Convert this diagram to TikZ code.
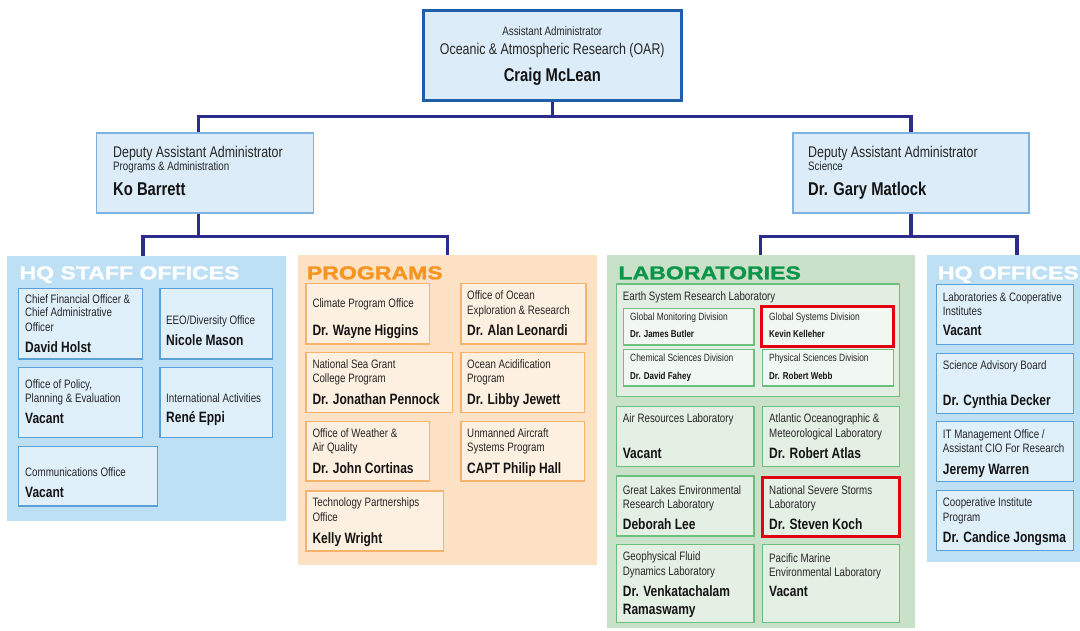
\documentclass[tikz,border=0pt]{standalone}
\usepackage{fontspec}
\setmainfont[FakeStretch=0.8]{Liberation Sans}
\newfontfamily\headfont[FakeStretch=1.24,FakeBold=1.3]{Liberation Sans}
\usetikzlibrary{calc}
\pgfdeclarelayer{bg}
\pgfsetlayers{bg,main}
\definecolor{topfill}{HTML}{DCEDF9}
\definecolor{topline}{HTML}{1F5FAA}
\definecolor{depline}{HTML}{7FB2E0}
\definecolor{hqsecc}{HTML}{BDE0F5}
\definecolor{hqfill}{HTML}{E0F0FB}
\definecolor{hqline}{HTML}{5A9FD6}
\definecolor{prsecc}{HTML}{FDE1C5}
\definecolor{prfill}{HTML}{FEF0E1}
\definecolor{prline}{HTML}{F7B36A}
\definecolor{lbsecc}{HTML}{C8E1C8}
\definecolor{lbfill}{HTML}{E5F0E5}
\definecolor{esrlfill}{HTML}{E1EEE1}
\definecolor{subfill}{HTML}{F1F7F1}
\definecolor{lbline}{HTML}{6CC07E}
\definecolor{redc}{HTML}{E3000F}
\definecolor{connc}{HTML}{2B2C8C}
\definecolor{progor}{HTML}{F7941D}
\definecolor{labgr}{HTML}{0A9548}
\definecolor{txtc}{HTML}{262626}
\definecolor{namec}{HTML}{141414}
\newcommand\rbox[6]{\node[#2, anchor=north west, minimum width={(#5-#3)*1pt}, minimum height={(#6-#4)*1pt}, inner sep=0pt, outer sep=0pt] (#1) at (#3,#4) {};}
\newcommand\tx[5]{\node[#2] (#1) at (#3,#4) {#5};}
\begin{document}
\begin{tikzpicture}[x=1pt,y=-1pt,
  topbox/.style={fill=topfill, draw=topline, line width=3pt},
  depbox/.style={fill=topfill, draw=depline, line width=1.3pt},
  hqsec/.style={fill=hqsecc},
  prsec/.style={fill=prsecc},
  lbsec/.style={fill=lbsecc},
  hqbox/.style={fill=hqfill, draw=hqline, line width=1.2pt},
  prbox/.style={fill=prfill, draw=prline, line width=1.2pt},
  lbbox/.style={fill=lbfill, draw=lbline, line width=1.2pt},
  esrlbox/.style={fill=esrlfill, draw=lbline, line width=1.2pt},
  subbox/.style={fill=subfill, draw=lbline, line width=1.2pt},
  redline/.style={draw=redc, line width=3pt},
  conn/.style={draw=connc, line width=3.2pt, line cap=rect},
  tsm/.style={font=\fontsize{12.2}{14}\selectfont, text=txtc, anchor=base west, inner sep=0pt},
  tnm/.style={font=\fontsize{15}{17}\selectfont\bfseries, text=namec, anchor=base west, inner sep=0pt},
  tdv/.style={font=\fontsize{10.5}{12}\selectfont, text=txtc, anchor=base west, inner sep=0pt},
  tdn/.style={font=\fontsize{10}{12}\selectfont\bfseries, text=namec, anchor=base west, inner sep=0pt},
  ttl/.style={font=\headfont\bfseries\fontsize{18.6}{20}\selectfont, anchor=base west, inner sep=0pt}]
\useasboundingbox (0,0) rectangle (1080,630);
\clip (0,0) rectangle (1080,630);
\begin{pgfonlayer}{bg}
\fill[white] (0,0) rectangle (1080,630);
\end{pgfonlayer}
% top
\rbox{oar}{topbox}{423.6}{10}{681}{100.7}
\node[tsm, anchor=base] (oar1) at (552.3,35) {Assistant Administrator};
\node[tsm, anchor=base, font=\fontsize{15.5}{17}\selectfont] (oar2) at (552.3,54) {Oceanic \& Atmospheric Research (OAR)};
\node[tnm, anchor=base, font=\fontsize{18.5}{20}\selectfont\bfseries] (oar3) at (552.3,81) {Craig McLean};
% deputies
\rbox{dpa}{depbox}{96.4}{133}{313.4}{213}
\node[tsm, font=\fontsize{15.5}{17}\selectfont] (dpa1) at (113,157.7) {Deputy Assistant Administrator};
\tx{dpa2}{tsm}{113}{170.5}{Programs \& Administration}
\node[tnm, font=\fontsize{18.5}{20}\selectfont\bfseries] (dpa3) at (113,195.5) {Ko Barrett};
\rbox{dps}{depbox}{793}{133}{1029}{213}
\node[tsm, font=\fontsize{15.5}{17}\selectfont] (dps1) at (808,157.7) {Deputy Assistant Administrator};
\tx{dps2}{tsm}{808}{170.5}{Science}
\node[tnm, font=\fontsize{18.5}{20}\selectfont\bfseries] (dps3) at (808,195.5) {Dr. Gary Matlock};
% sections
\rbox{hqs}{hqsec}{6.7}{256}{286}{520.7}
\rbox{prg}{prsec}{298.3}{255}{596.7}{565}
\rbox{lab}{lbsec}{606.7}{255}{915}{628}
\rbox{hqo}{hqsec}{926.7}{255}{1090}{561.7}
\node[ttl, text=white] (hqst) at (19.3,279.3) {HQ STAFF OFFICES};
\node[ttl, text=progor] (prgt) at (306.7,279.3) {PROGRAMS};
\node[ttl, text=labgr] (labt) at (618.3,279.3) {LABORATORIES};
\node[ttl, text=white] (hqot) at (937.7,279.3) {HQ OFFICES};
% HQ staff offices
\rbox{cfo}{hqbox}{18.3}{288.3}{142.3}{359}
\tx{cfo1}{tsm}{25}{303.3}{Chief Financial Officer \&}
\tx{cfo2}{tsm}{25}{316.7}{Chief Administrative}
\tx{cfo3}{tsm}{25}{331}{Officer}
\tx{cfo4}{tnm}{25}{352.3}{David Holst}
\rbox{eeo}{hqbox}{160}{288.3}{272.7}{359}
\tx{eeo1}{tsm}{166}{324}{EEO/Diversity Office}
\tx{eeo2}{tnm}{166}{345.7}{Nicole Mason}
\rbox{opp}{hqbox}{18.3}{367.3}{142.3}{437.3}
\tx{opp1}{tsm}{25}{388.3}{Office of Policy,}
\tx{opp2}{tsm}{25}{402.3}{Planning \& Evaluation}
\tx{opp3}{tnm}{25}{423.3}{Vacant}
\rbox{intl}{hqbox}{160}{367.3}{272.7}{437.3}
\tx{intl1}{tsm}{166}{402.3}{International Activities}
\tx{intl2}{tnm}{166}{422.3}{René Eppi}
\rbox{com}{hqbox}{18.3}{446.7}{157.3}{506}
\tx{com1}{tsm}{25}{476.7}{Communications Office}
\tx{com2}{tnm}{25}{497.3}{Vacant}
% programs
\rbox{cpo}{prbox}{306}{283.3}{429.3}{344}
\tx{cpo1}{tsm}{312.3}{307.3}{Climate Program Office}
\tx{cpo2}{tnm}{312.3}{335}{Dr. Wayne Higgins}
\rbox{oer}{prbox}{461}{283.3}{586}{344}
\tx{oer1}{tsm}{467}{299.3}{Office of Ocean}
\tx{oer2}{tsm}{467}{314}{Exploration \& Research}
\tx{oer3}{tnm}{467}{335.7}{Dr. Alan Leonardi}
\rbox{sg}{prbox}{306}{352.7}{452.3}{412.7}
\tx{sg1}{tsm}{312.3}{368.3}{National Sea Grant}
\tx{sg2}{tsm}{312.3}{382.7}{College Program}
\tx{sg3}{tnm}{312.3}{404.3}{Dr. Jonathan Pennock}
\rbox{oap}{prbox}{461}{352.7}{584.3}{412.7}
\tx{oap1}{tsm}{467}{368.3}{Ocean Acidification}
\tx{oap2}{tsm}{467}{382.7}{Program}
\tx{oap3}{tnm}{467}{404.3}{Dr. Libby Jewett}
\rbox{owaq}{prbox}{306}{421.7}{429.3}{481}
\tx{owaq1}{tsm}{312.3}{437.3}{Office of Weather \&}
\tx{owaq2}{tsm}{312.3}{451.7}{Air Quality}
\tx{owaq3}{tnm}{312.3}{473.3}{Dr. John Cortinas}
\rbox{uas}{prbox}{461}{421.7}{584.3}{481}
\tx{uas1}{tsm}{467}{437.3}{Unmanned Aircraft}
\tx{uas2}{tsm}{467}{451.7}{Systems Program}
\tx{uas3}{tnm}{467}{473.3}{CAPT Philip Hall}
\rbox{tpo}{prbox}{306}{491}{443.3}{551}
\tx{tpo1}{tsm}{312.3}{506.7}{Technology Partnerships}
\tx{tpo2}{tsm}{312.3}{521.7}{Office}
\tx{tpo3}{tnm}{312.3}{543.3}{Kelly Wright}
% laboratories
\rbox{esrl}{esrlbox}{616.7}{284}{899.3}{396.7}
\tx{esrl1}{tsm}{622.7}{300}{Earth System Research Laboratory}
\rbox{gmd}{subbox}{623.3}{308.3}{754}{345}
\tx{gmd1}{tdv}{630}{320.7}{Global Monitoring Division}
\tx{gmd2}{tdn}{630}{337.3}{Dr. James Butler}
\rbox{gsd}{subbox,redline}{761.7}{306}{893.3}{346.7}
\tx{gsd1}{tdv}{769}{320.7}{Global Systems Division}
\tx{gsd2}{tdn}{769}{337.3}{Kevin Kelleher}
\rbox{csd}{subbox}{623.3}{349.3}{754}{386}
\tx{csd1}{tdv}{630}{361.7}{Chemical Sciences Division}
\tx{csd2}{tdn}{630}{379}{Dr. David Fahey}
\rbox{psd}{subbox}{762.3}{349.3}{893.3}{386}
\tx{psd1}{tdv}{769}{361.7}{Physical Sciences Division}
\tx{psd2}{tdn}{769}{379}{Dr. Robert Webb}
\rbox{arl}{lbbox}{616.7}{406.7}{754}{466.7}
\tx{arl1}{tsm}{622.7}{422.7}{Air Resources Laboratory}
\tx{arl2}{tnm}{622.7}{458.3}{Vacant}
\rbox{aoml}{lbbox}{762.3}{406.7}{899.3}{466.7}
\tx{aoml1}{tsm}{769}{422.7}{Atlantic Oceanographic \&}
\tx{aoml2}{tsm}{769}{437.3}{Meteorological Laboratory}
\tx{aoml3}{tnm}{769}{458.3}{Dr. Robert Atlas}
\rbox{glerl}{lbbox}{616.7}{476}{754}{536}
\tx{glerl1}{tsm}{622.7}{494}{Great Lakes Environmental}
\tx{glerl2}{tsm}{622.7}{508.3}{Research Laboratory}
\tx{glerl3}{tnm}{622.7}{529.3}{Deborah Lee}
\rbox{nssl}{lbbox,redline}{762.3}{477.3}{899.3}{536.7}
\tx{nssl1}{tsm}{769}{494}{National Severe Storms}
\tx{nssl2}{tsm}{769}{508.3}{Laboratory}
\tx{nssl3}{tnm}{769}{529.3}{Dr. Steven Koch}
\rbox{gfdl}{lbbox}{616.7}{544.3}{754}{622.7}
\tx{gfdl1}{tsm}{622.7}{560.7}{Geophysical Fluid}
\tx{gfdl2}{tsm}{622.7}{575}{Dynamics Laboratory}
\tx{gfdl3}{tnm}{622.7}{596}{Dr. Venkatachalam}
\tx{gfdl4}{tnm}{622.7}{614.3}{Ramaswamy}
\rbox{pmel}{lbbox}{762.3}{544.3}{899.3}{622.7}
\tx{pmel1}{tsm}{769}{562.3}{Pacific Marine}
\tx{pmel2}{tsm}{769}{576.7}{Environmental Laboratory}
\tx{pmel3}{tnm}{769}{596}{Vacant}
% HQ offices
\rbox{lci}{hqbox}{936.7}{284.3}{1073.3}{344.3}
\tx{lci1}{tsm}{942.7}{301}{Laboratories \& Cooperative}
\tx{lci2}{tsm}{942.7}{315}{Institutes}
\tx{lci3}{tnm}{942.7}{335.7}{Vacant}
\rbox{sab}{hqbox}{936.7}{353.3}{1073.3}{413.3}
\tx{sab1}{tsm}{942.7}{369.3}{Science Advisory Board}
\tx{sab2}{tnm}{942.7}{405}{Dr. Cynthia Decker}
\rbox{itm}{hqbox}{936.7}{421.7}{1073.3}{481.7}
\tx{itm1}{tsm}{942.7}{438.3}{IT Management Office /}
\tx{itm2}{tsm}{942.7}{452.3}{Assistant CIO For Research}
\tx{itm3}{tnm}{942.7}{474}{Jeremy Warren}
\rbox{cip}{hqbox}{936.7}{490.7}{1073.3}{550.7}
\tx{cip1}{tsm}{942.7}{506.7}{Cooperative Institute}
\tx{cip2}{tsm}{942.7}{521}{Program}
\tx{cip3}{tnm}{942.7}{542.3}{Dr. Candice Jongsma}
% connectors
\begin{pgfonlayer}{bg}
\draw[conn] (oar.south) -- ++(0,16) coordinate (j1);
\draw[conn] ([xshift=-6.2pt]dpa.north) |- (j1) -| (dps.north);
\draw[conn] ([xshift=-6.2pt]dpa.south) -- ++(0,23.7) coordinate (j2);
\draw[conn] ([xshift=-3.3pt]hqs.north) |- (j2) -| (prg.north);
\draw[conn] (dps.south) -- ++(0,23.7) coordinate (j3);
\draw[conn] (lab.north) |- (j3) -| ([xshift=90.3pt]hqo.north west);
\end{pgfonlayer}
\end{tikzpicture}
\end{document}
